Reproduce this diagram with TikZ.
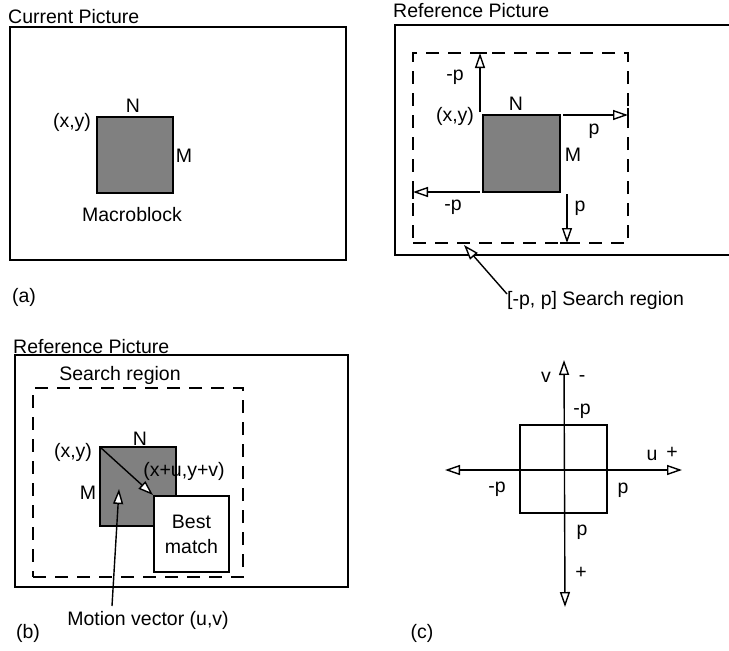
\documentclass[tikz,border=0pt]{standalone}
\usepackage{fontspec}
\setmainfont{Liberation Sans}
\usetikzlibrary{arrows.meta,calc}
\begin{document}
\begin{tikzpicture}[x=1pt,y=-1pt,
  txt/.style={font=\fontsize{19.5}{23}\selectfont, inner sep=0pt},
  frame/.style={draw, line width=1.6pt, inner sep=0pt, outer sep=0pt, anchor=north west},
  mblock/.style={draw, line width=1.6pt, fill=black!50, inner sep=0pt, outer sep=0pt, anchor=north west},
  wbox/.style={draw, line width=1.6pt, fill=white, inner sep=0pt, outer sep=0pt, anchor=north west},
  dbox/.style={draw, line width=1.6pt, dash pattern=on 13pt off 9pt, inner sep=0pt, outer sep=0pt, anchor=north west},
  otip/.tip={Triangle[open, length=15pt, width=10pt, line width=1.4pt, fill=white]},
  oarrow/.style={line width=1.4pt, -otip},
  barline/.style={line width=1.6pt},
]
\useasboundingbox (0,0) rectangle (729,651);

% ---------- (a) ----------
\node[txt, anchor=base west] (ta) at (8,23) {Current Picture};
\node[frame, minimum width=336pt, minimum height=233pt] (fa) at (10,27) {};
\node[mblock, minimum width=76pt, minimum height=76pt] (ma) at (97,117) {};
\node[txt] (na) at (133,106) {N};
\node[txt] (xya) at (72,122) {(x,y)};
\node[txt] (mla) at (184,156) {M};
\node[txt] (mca) at (132,215) {Macroblock};
\node[txt] (la) at (24,297) {(a)};

% ---------- reference picture top right ----------
\node[txt, anchor=base west] (tr) at (393,17) {Reference Picture};
\coordinate (fr1) at (729,25);
\coordinate (fr2) at (395,25);
\coordinate (fr3) at (395,255);
\coordinate (fr4) at (729,255);
\draw[line width=1.6pt] (fr1) -- (fr2) -- (fr3) -- (fr4);
\node[dbox, minimum width=215pt, minimum height=190pt] (dr) at (413,53) {};
\node[mblock, minimum width=77pt, minimum height=77pt] (mr) at (483,115) {};
\coordinate (upS) at ($(mr.north west)+(-3,-3)$);
\coordinate (upE) at (upS |- dr.north);
\coordinate (rtS) at ($(mr.north east)+(3,0)$);
\coordinate (rtE) at (dr.east |- rtS);
\coordinate (lfS) at ($(mr.south west)+(-3,0)$);
\coordinate (lfE) at (dr.west |- lfS);
\coordinate (dnS) at ($(mr.south east)+(7,2)$);
\coordinate (dnE) at (dnS |- dr.south);
\draw[oarrow] (upS) -- (upE);
\draw[oarrow] (rtS) -- (rtE);
\draw[oarrow] (lfS) -- (lfE);
\draw[oarrow] (dnS) -- (dnE);
\draw[barline] ($(upE)+(-7,0)$) -- ($(upE)+(7,0)$);
\draw[barline] ($(rtE)+(0,-7)$) -- ($(rtE)+(0,7)$);
\draw[barline] ($(lfE)+(0,-7)$) -- ($(lfE)+(0,7)$);
\draw[barline] ($(dnE)+(-7,0)$) -- ($(dnE)+(7,0)$);
\node[txt] (mpu) at (455,77) {-p};
\node[txt] (nr) at (516,104) {N};
\node[txt] (xyr) at (455,116) {(x,y)};
\node[txt] (pr) at (594,131) {p};
\node[txt] (mlr) at (573,155) {M};
\node[txt] (mpl) at (453,207) {-p};
\node[txt] (pd) at (580,208) {p};
\node[txt, anchor=west] (srl) at (507,300) {[-p, p] Search region};
\coordinate (srt) at (464,245);
\draw[oarrow] ($(srl.west)+(0,-6)$) -- (srt);

% ---------- (b) ----------
\node[txt, anchor=base west] (tb) at (13,353) {Reference Picture};
\node[frame, minimum width=333pt, minimum height=232pt] (fb) at (15,355) {};
\node[txt] (srb) at (120,375) {Search region};
\node[dbox, minimum width=210pt, minimum height=189pt] (db) at (33,388) {};
\node[mblock, minimum width=76pt, minimum height=79pt] (mb) at (100,447) {};
\node[wbox, minimum width=75pt, minimum height=76pt, align=center, txt] (bm) at (154,496) {Best\\[2pt]match};
\draw[oarrow] (mb.north west) -- ($(bm.north west)+(-1,-1)$);
\node[txt] (nb) at (140,439) {N};
\node[txt] (xyb) at (73,452) {(x,y)};
\node[txt] (xuvb) at (184,471) {(x+u,y+v)};
\node[txt] (mlb) at (88,493) {M};
\node[txt] (mvl) at (148,620) {Motion vector (u,v)};
\coordinate (mvt) at (119,489);
\draw[oarrow] (112,606) -- (mvt);
\node[txt] (lb) at (28,633) {(b)};

% ---------- (c) ----------
\node[draw, line width=1.6pt, inner sep=0pt, outer sep=0pt, anchor=north west, minimum width=87pt, minimum height=88pt] (sq) at (520,425) {};
\coordinate (vt) at (564,360);
\coordinate (vb) at (565,607);
\coordinate (hl) at (445,470);
\coordinate (hr) at (682,470);
\draw[line width=1.4pt, otip-otip] (vt) -- (vb);
\draw[line width=1.4pt, otip-otip] (hl) -- (hr);
\node[txt] (cv) at (546,377) {v};
\node[txt] (cm) at (582,379) {-};
\node[txt] (cmp) at (582,411) {-p};
\node[txt] (cu) at (652,455) {u};
\node[txt] (cplus) at (672,453) {+};
\node[txt] (cmpl) at (497,489) {-p};
\node[txt] (cpr) at (623,490) {p};
\node[txt] (cpb) at (582,532) {p};
\node[txt] (cpb2) at (581,573) {+};
\node[txt] (lc) at (422,633) {(c)};
\end{tikzpicture}
\end{document}
